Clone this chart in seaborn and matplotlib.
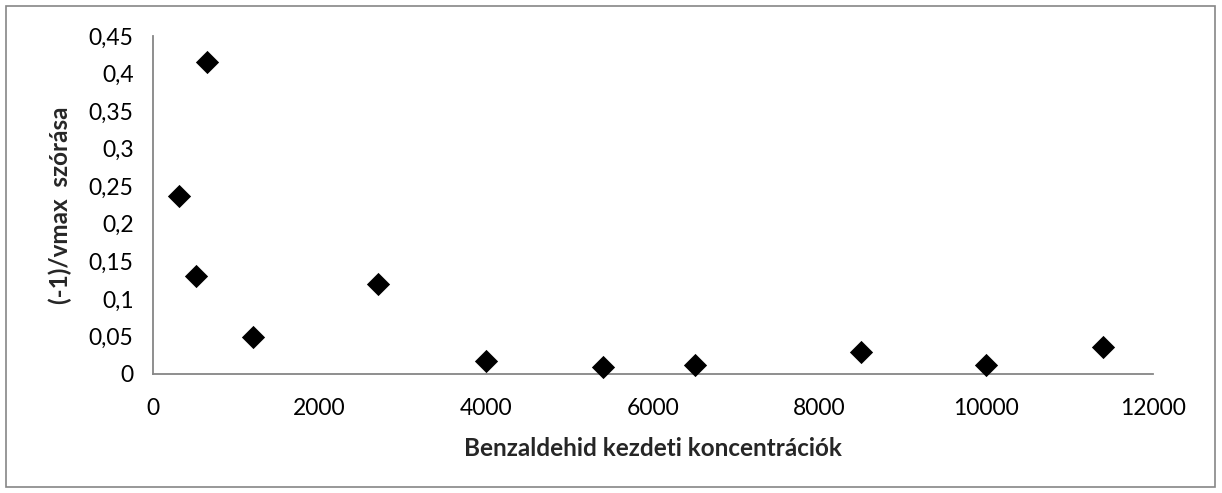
import matplotlib
matplotlib.use("Agg")
import matplotlib.pyplot as plt
import seaborn as sns
import pandas as pd
from matplotlib.ticker import FuncFormatter, MultipleLocator
from matplotlib.patches import Rectangle

# adatok (leolvasva az eredeti ábráról)
koncentracio = [316, 517, 645, 1198, 2696, 3999, 5405, 6502, 8499, 10001, 11405]
szoras = [0.237, 0.131, 0.416, 0.049, 0.120, 0.0177, 0.0088, 0.0114, 0.0297, 0.0124, 0.036]

df = pd.DataFrame({"x": koncentracio, "y": szoras})

sns.set_style("white")
plt.rcParams['font.family'] = ['Lato', 'DejaVu Sans']

fig = plt.figure(figsize=(12.22, 4.93), dpi=100)
ax = fig.add_axes([153 / 1222, 1 - 374 / 493, 1000 / 1222, 338 / 493])

sns.scatterplot(data=df, x="x", y="y", marker="D", color="black", s=140,
                edgecolor="black", linewidth=0, ax=ax, clip_on=False, zorder=3)

ax.set_xlim(0, 12000)
ax.set_ylim(0, 0.45)
ax.xaxis.set_major_locator(MultipleLocator(2000))
ax.yaxis.set_major_locator(MultipleLocator(0.05))
ax.yaxis.set_major_formatter(FuncFormatter(lambda v, p: f"{round(v, 2):g}".replace(".", ",")))

grey = "#868686"
for s in ["top", "right"]:
    ax.spines[s].set_visible(False)
for s in ["left", "bottom"]:
    ax.spines[s].set_color(grey)
    ax.spines[s].set_linewidth(1.3)
ax.tick_params(axis="both", direction="inout", length=16, width=1.3, color=grey,
               labelsize=16.5, labelcolor="black")
ax.tick_params(axis="x", pad=9)
ax.tick_params(axis="y", pad=6)

ax.set_xlabel("Benzaldehid kezdeti koncentrációk", fontsize=17.5, fontweight="bold", labelpad=13)
ax.set_ylabel("(-1)/vmax  szórása", fontsize=17.5, fontweight="bold", labelpad=12)

fig.patches.append(Rectangle((6 / 1222, 6 / 493), 1209 / 1222, 481 / 493,
                             transform=fig.transFigure, fill=False,
                             edgecolor=grey, linewidth=1.2))

fig.savefig("out.png", dpi=100)
